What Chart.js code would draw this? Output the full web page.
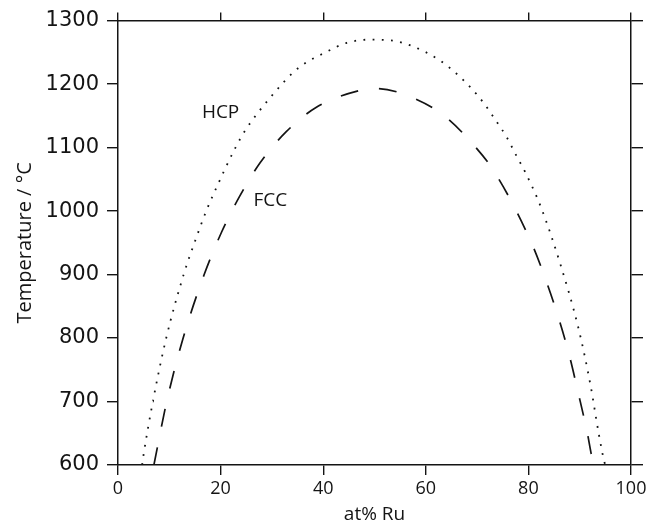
<!DOCTYPE html>
<html>
<head>
<meta charset="utf-8">
<script src="https://cdn.jsdelivr.net/npm/chart.js@4.4.1/dist/chart.umd.min.js"></script>
<style>
  html, body { margin: 0; padding: 0; background: #fff; }
  #wrap { width: 654px; height: 531px; }
</style>
</head>
<body>
<div id="wrap"><canvas id="chartRu"></canvas></div>
<script>
// HCP solvus (dotted) - at% Ru vs temperature
const hcpX = [4.7, 5.0, 6.8, 9.4, 12.8, 15.3, 17.2, 18.8, 22.9, 24.8, 29.6, 35.1, 40.7, 44.6, 49.0, 53.0, 57.3, 62.8, 65.9, 68.8, 71.4, 73.7, 75.8, 77.6, 79.4, 82.5, 86.2, 89.8, 92.1, 93.7, 94.8, 95.0];
const hcpT = [600, 617, 700, 800, 900, 959, 1000, 1030, 1100, 1127, 1178, 1225, 1251, 1265, 1270, 1269, 1260, 1237, 1217, 1194, 1169, 1142, 1116, 1088, 1061, 1005, 917, 814, 726, 650, 605, 600];

// FCC solvus (dashed)
const fccX = [7.0, 9.5, 12.7, 16.8, 20.2, 23.7, 27.7, 32.8, 38.6, 47.2, 50.5, 55.7, 63.1, 68.9, 73.5, 80.7, 83.5, 85.9, 88.0, 89.7, 91.4, 92.6, 92.9];
const fccT = [600, 700, 800, 900, 967, 1023, 1076, 1125, 1163, 1190, 1193, 1184, 1153, 1108, 1060, 948, 889, 831, 772, 714, 654, 605, 600];

const xTicks = [0, 20, 40, 60, 80, 100];
const yTicks = [600, 700, 800, 900, 1000, 1100, 1200, 1300];

// curve labels, placed in data units
const curveLabels = [
    { text: 'HCP', x: 20.0, y: 1155 },
    { text: 'FCC', x: 29.7, y: 1016 }
];

const toPoints = (xs, ys) => xs.map((v, i) => ({ x: v, y: ys[i] }));
const ink = '#141414';

const labelPlugin = {
    id: 'curveLabels',
    afterDatasetsDraw(chart) {
        const { ctx, scales } = chart;
        ctx.save();
        ctx.fillStyle = ink;
        ctx.font = '19px "Open Sans"';
        ctx.textAlign = 'center';
        ctx.textBaseline = 'middle';
        curveLabels.forEach(l => {
            ctx.fillText(l.text, scales.x.getPixelForValue(l.x), scales.y.getPixelForValue(l.y));
        });
        ctx.restore();
    }
};

const fixSize = (prop, val) => scale => { scale[prop] = val; };

new Chart(document.getElementById('chartRu'), {
    type: 'scatter',
    data: {
        datasets: [
            {
                label: 'HCP',
                data: toPoints(hcpX, hcpT),
                showLine: true,
                borderColor: ink,
                borderWidth: 1.8,
                borderDash: [1.8, 7.4],
                pointRadius: 0,
                cubicInterpolationMode: 'monotone'
            },
            {
                label: 'FCC',
                data: toPoints(fccX, fccT),
                showLine: true,
                borderColor: ink,
                borderWidth: 1.7,
                borderDash: [18, 21],
                pointRadius: 0,
                cubicInterpolationMode: 'monotone'
            }
        ]
    },
    options: {
        responsive: true,
        maintainAspectRatio: false,
        animation: false,
        layout: { padding: 0 },
        plugins: {
            legend: { display: false },
            tooltip: { enabled: false }
        },
        scales: {
            x: {
                type: 'linear',
                position: 'bottom',
                min: 0,
                max: 100,
                afterBuildTicks: s => { s.ticks = xTicks.map(v => ({ value: v })); },
                afterFit: fixSize('height', 66),
                grid: { drawOnChartArea: false, tickLength: 10, color: ink, lineWidth: 1.4 },
                border: { color: ink, width: 1.5 },
                ticks: { color: ink, padding: 3, maxRotation: 0, font: { family: 'Open Sans', size: 18 }, callback: v => String(v) },
                title: {
                    display: true,
                    text: 'at% Ru',
                    color: ink,
                    font: { family: 'Open Sans', size: 19, lineHeight: 1.26 }
                }
            },
            x2: {
                type: 'linear',
                position: 'top',
                min: 0,
                max: 100,
                afterBuildTicks: s => { s.ticks = xTicks.map(v => ({ value: v })); },
                afterFit: fixSize('height', 20),
                grid: { drawOnChartArea: false, tickLength: 8, color: ink, lineWidth: 1.4 },
                border: { color: ink, width: 1.5 },
                ticks: { display: false }
            },
            y: {
                type: 'linear',
                position: 'left',
                min: 600,
                max: 1300,
                afterBuildTicks: s => { s.ticks = yTicks.map(v => ({ value: v })); },
                afterFit: fixSize('width', 118),
                grid: { drawOnChartArea: false, tickLength: 11, color: ink, lineWidth: 1.4 },
                border: { color: ink, width: 1.5 },
                ticks: { color: ink, padding: 8, font: { family: 'DejaVu Sans', size: 21 }, callback: v => String(v) },
                title: {
                    display: true,
                    text: 'Temperature / °C',
                    color: ink,
                    font: { family: 'Open Sans', size: 20, lineHeight: 2.15 }
                }
            },
            y2: {
                type: 'linear',
                position: 'right',
                min: 600,
                max: 1300,
                afterBuildTicks: s => { s.ticks = yTicks.map(v => ({ value: v })); },
                afterFit: fixSize('width', 23),
                grid: { drawOnChartArea: false, tickLength: 12, color: ink, lineWidth: 1.4 },
                border: { color: ink, width: 1.5 },
                ticks: { display: false }
            }
        }
    },
    plugins: [labelPlugin]
});
</script>
</body>
</html>
